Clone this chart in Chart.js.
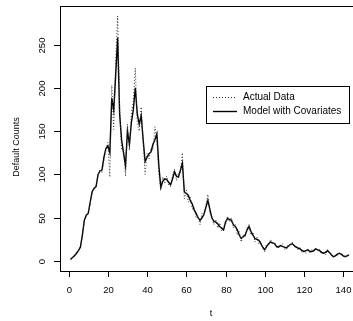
<!DOCTYPE html>
<html>
<head>
<meta charset="utf-8">
<script src="https://cdn.jsdelivr.net/npm/chart.js@4.4.1/dist/chart.umd.min.js"></script>
<style>
  body { margin: 0; background: #fff; }
  canvas { display: block; }
</style>
</head>
<body>
<canvas id="chart" width="353" height="321"></canvas>
<script>
// Observed defaults per period
const actualData = [
  1, 4, 7, 10, 12, 17, 28, 48, 52, 56,
  66, 81, 83, 87, 99, 106, 102, 116, 128, 137,
  97, 203, 152, 232, 283, 178, 128, 130, 98, 158,
  128, 170, 185, 223, 158, 150, 178, 138, 100, 124,
  118, 130, 128, 155, 140, 100, 82, 97, 90, 98,
  88, 86, 100, 106, 93, 102, 100, 125, 72, 82,
  68, 74, 60, 62, 50, 52, 42, 55, 52, 65,
  77, 55, 52, 42, 48, 38, 44, 35, 40, 42,
  52, 45, 50, 38, 42, 30, 34, 22, 30, 28,
  38, 42, 30, 33, 22, 28, 20, 23, 14, 11,
  20, 18, 25, 19, 22, 15, 18, 16, 20, 14,
  13, 19, 17, 22, 16, 18, 13, 16, 10, 12,
  9, 14, 10, 13, 11, 15, 12, 13, 8, 11,
  7, 13, 9, 8, 4, 7, 6, 10, 7, 8,
  4, 7, 6
];

// Fitted values from the covariate model
const modelData = [
  2, 4, 6, 9, 12, 16, 30, 47, 53, 55,
  68, 80, 84, 86, 100, 104, 105, 120, 130, 133,
  125, 188, 174, 215, 258, 170, 140, 125, 110, 150,
  135, 160, 175, 200, 170, 158, 168, 140, 115, 120,
  124, 126, 135, 140, 147, 110, 85, 92, 95, 94,
  91, 88, 95, 103, 98, 97, 105, 113, 80, 78,
  76, 70, 66, 59, 55, 50, 47, 50, 54, 62,
  70, 60, 50, 46, 45, 43, 40, 38, 36, 45,
  49, 48, 47, 42, 40, 36, 30, 26, 28, 30,
  36, 40, 34, 30, 26, 25, 24, 20, 16, 13,
  17, 20, 22, 21, 20, 17, 16, 18, 17, 16,
  15, 17, 19, 20, 18, 16, 15, 14, 12, 11,
  12, 13, 11, 11, 12, 14, 13, 12, 10, 9,
  10, 12, 10, 7, 5, 6, 8, 9, 8, 6,
  5, 6, 7
];

const periods = actualData.map((_, i) => i + 1);
const xTicks = [0, 20, 40, 60, 80, 100, 120, 140];
const yTicks = [0, 50, 100, 150, 200, 250];
const legendLabels = ['Actual Data', 'Model with Covariates'];

const FONT = '"Liberation Sans", Arial, sans-serif';

// R-style box, ticks, titles and legend
const rAxes = {
  id: 'rAxes',
  afterDraw(chart) {
    const ctx = chart.ctx;
    const a = chart.chartArea;
    const xs = chart.scales.x;
    const ys = chart.scales.y;
    ctx.save();
    ctx.strokeStyle = '#000';
    ctx.fillStyle = '#000';
    ctx.lineWidth = 1;

    // box (right side falls just outside the picture)
    ctx.strokeRect(a.left + 0.5, a.top + 0.5, 360 - a.left, a.bottom - a.top);

    // x axis ticks
    ctx.font = '9.5px ' + FONT;
    ctx.textAlign = 'center';
    ctx.textBaseline = 'middle';
    xTicks.forEach(v => {
      const px = Math.round(xs.getPixelForValue(v)) + 0.5;
      ctx.beginPath();
      ctx.moveTo(px, a.bottom);
      ctx.lineTo(px, a.bottom + 6);
      ctx.stroke();
      ctx.fillText(String(v), px, 290);
    });

    // y axis ticks, labels parallel to the axis
    yTicks.forEach(v => {
      const py = Math.round(ys.getPixelForValue(v)) + 0.5;
      ctx.beginPath();
      ctx.moveTo(a.left, py);
      ctx.lineTo(a.left - 6, py);
      ctx.stroke();
      ctx.save();
      ctx.translate(42, py);
      ctx.rotate(-Math.PI / 2);
      ctx.fillText(String(v), 0, 0);
      ctx.restore();
    });

    // axis titles
    ctx.font = '9px ' + FONT;
    ctx.fillText('t', 211, 314);
    ctx.save();
    ctx.translate(17, 147);
    ctx.rotate(-Math.PI / 2);
    ctx.fillText('Default Counts', 0, 0);
    ctx.restore();

    // legend
    const lx = 206.5, ly = 86.5, lw = 143, lh = 37;
    ctx.fillStyle = '#fff';
    ctx.fillRect(lx, ly, lw, lh);
    ctx.strokeRect(lx, ly, lw, lh);
    ctx.fillStyle = '#000';
    ctx.font = '10px ' + FONT;
    ctx.textAlign = 'left';
    const rows = [97, 111];
    chart.data.datasets.forEach((ds, i) => {
      ctx.beginPath();
      ctx.setLineDash(ds.borderDash || []);
      ctx.lineWidth = ds.borderWidth;
      ctx.strokeStyle = ds.borderColor;
      ctx.moveTo(213, rows[i] + 0.5);
      ctx.lineTo(237, rows[i] + 0.5);
      ctx.stroke();
      ctx.setLineDash([]);
      ctx.fillText(legendLabels[i], 243, rows[i]);
    });
    ctx.restore();
  }
};

new Chart(document.getElementById('chart'), {
  type: 'line',
  data: {
    datasets: [
      {
        label: legendLabels[0],
        data: periods.map((t, i) => ({ x: t, y: actualData[i] })),
        borderColor: '#333',
        borderWidth: 1,
        borderDash: [1, 2],
        pointRadius: 0,
        tension: 0
      },
      {
        label: legendLabels[1],
        data: periods.map((t, i) => ({ x: t, y: modelData[i] })),
        borderColor: '#000',
        borderWidth: 1.4,
        pointRadius: 0,
        tension: 0
      }
    ]
  },
  options: {
    responsive: false,
    animation: false,
    layout: { padding: { left: 60, top: 6, right: 0, bottom: 50 } },
    scales: {
      x: { type: 'linear', min: -4.4, max: 145, display: false },
      y: { type: 'linear', min: -11.5, max: 294.5, display: false }
    },
    plugins: {
      legend: { display: false },
      tooltip: { enabled: false }
    }
  },
  plugins: [rAxes]
});
</script>
</body>
</html>
